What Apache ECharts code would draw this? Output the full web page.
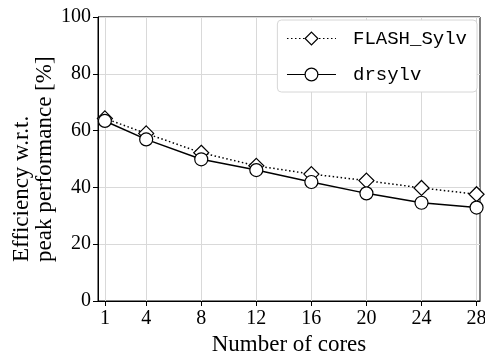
<!DOCTYPE html>
<html>
<head>
<meta charset="utf-8">
<script src="https://cdn.jsdelivr.net/npm/echarts@6/dist/echarts.min.js"></script>
<style>
  html, body { margin: 0; padding: 0; background: #fff; }
  #chart { width: 485px; height: 352px; }
</style>
</head>
<body>
<div id="chart"></div>
<script>
const cores = [1, 4, 8, 12, 16, 20, 24, 28];
const flashSylv = [64.3, 59.0, 52.2, 47.6, 44.7, 42.4, 39.8, 37.6];
const drsylv = [63.4, 56.9, 49.9, 46.1, 41.9, 37.9, 34.6, 32.9];
const xTicks = [1, 4, 8, 12, 16, 20, 24, 28];

const serif = "Liberation Serif";
const mono = "Liberation Mono";

const chart = echarts.init(document.getElementById("chart"));
chart.setOption({
  animation: false,
  grid: {
    left: 98, top: 17, right: 5, bottom: 51,
    outerBoundsMode: "none",
    containLabel: false,
    show: true, borderColor: "#000", borderWidth: 1,
  },
  legend: {
    orient: "vertical",
    right: 8, top: 20,
    backgroundColor: "#fff",
    borderColor: "#d6d6d6", borderWidth: 1, borderRadius: 4,
    padding: [9, 10, 8, 9],
    itemWidth: 49, itemHeight: 16, itemGap: 17,
    lineStyle: { width: 1.2 },
    itemStyle: { borderWidth: 1.2 },
    textStyle: { fontFamily: mono, fontSize: 19, color: "#000", padding: [0, 0, 0, 12] },
    data: ["FLASH_Sylv", "drsylv"],
  },
  xAxis: {
    type: "value",
    min: 0.5, max: 28.25,
    name: "Number of cores",
    nameLocation: "middle", nameGap: 28,
    nameTextStyle: { fontFamily: serif, fontSize: 23, color: "#000" },
    axisLine: { show: true, onZero: false, lineStyle: { color: "#000" } },
    axisTick: { show: true, length: 5, customValues: xTicks, lineStyle: { color: "#000" } },
    axisLabel: { customValues: xTicks, fontFamily: serif, fontSize: 20, color: "#000", margin: 8, showMinLabel: true, showMaxLabel: true },
    splitLine: { show: true, lineStyle: { color: "#d9d9d9" } },
  },
  yAxis: {
    type: "value",
    min: 0, max: 100, interval: 20,
    name: "{l|Efficiency w.r.t.}\n{l|peak performance [%]}",
    nameLocation: "middle", nameRotate: 90, nameGap: 42,
    nameMoveOverlap: false,
    nameTextStyle: {
      fontFamily: serif, fontSize: 23, color: "#000", lineHeight: 23,
      rich: { l: { fontFamily: serif, fontSize: 23, lineHeight: 23, width: 206, align: "left" } },
    },
    axisLine: { show: true, lineStyle: { color: "#000" } },
    axisTick: { show: true, length: 5, lineStyle: { color: "#000" } },
    axisLabel: { fontFamily: serif, fontSize: 20, color: "#000", margin: 7 },
    splitLine: { show: true, lineStyle: { color: "#d9d9d9", width: 1 } },
  },
  series: [
    {
      name: "FLASH_Sylv",
      type: "line",
      data: cores.map((c, i) => [c, flashSylv[i]]),
      symbol: "diamond", symbolSize: [15, 15],
      showAllSymbol: true,
      z: 2,
      lineStyle: { color: "#000", width: 1.5, type: [1.5, 2.5] },
      itemStyle: { color: "#fff", borderColor: "#000", borderWidth: 1.2 },
    },
    {
      name: "drsylv",
      type: "line",
      data: cores.map((c, i) => [c, drsylv[i]]),
      symbol: "circle", symbolSize: 13,
      showAllSymbol: true,
      z: 3,
      lineStyle: { color: "#000", width: 1.5 },
      itemStyle: { color: "#fff", borderColor: "#000", borderWidth: 1.2 },
    },
  ],
});
</script>
</body>
</html>
